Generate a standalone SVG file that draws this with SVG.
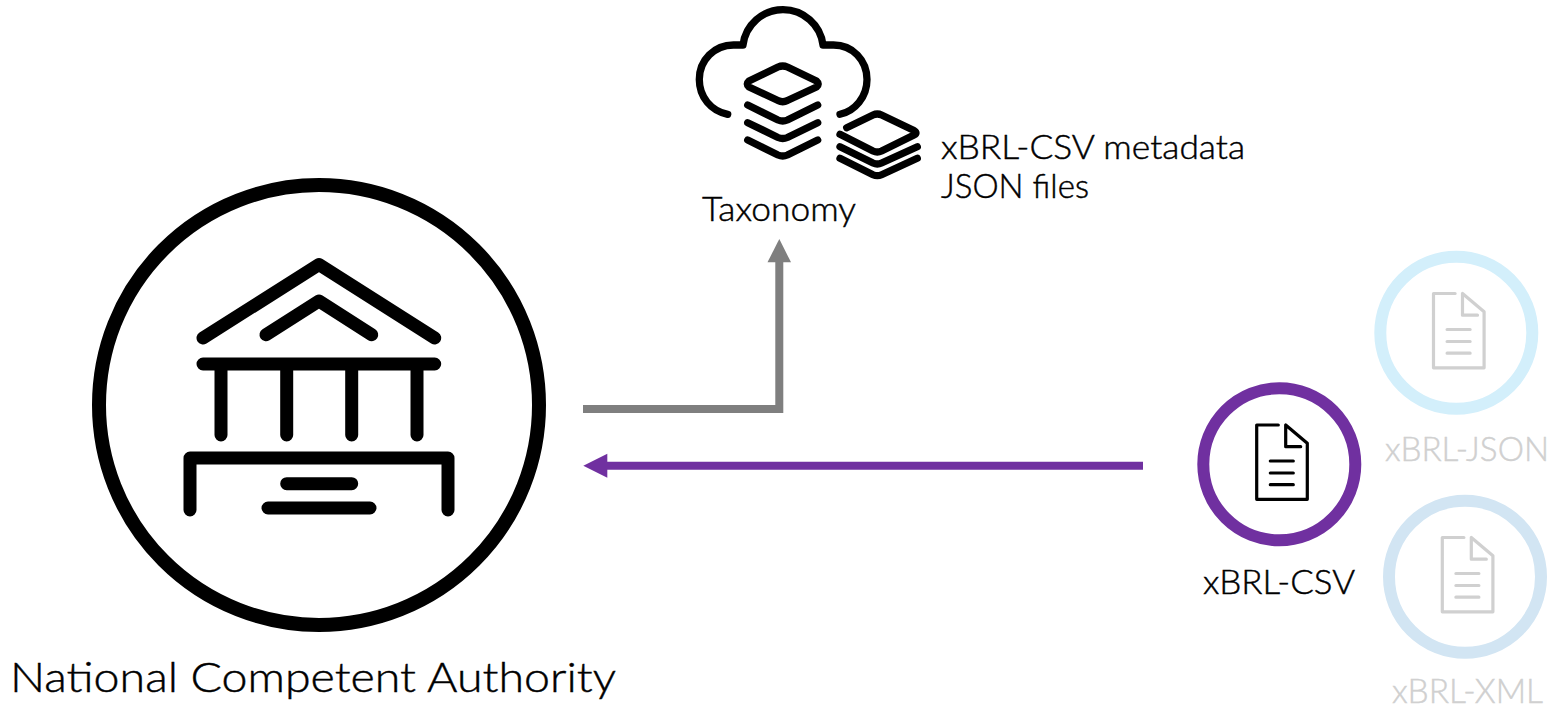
<svg xmlns="http://www.w3.org/2000/svg" width="1554" height="705" viewBox="0 0 1554 705">
<style>
text{font-family:"Lato","Liberation Sans",sans-serif;fill:#000;stroke:#000;stroke-width:.45px;font-weight:300}
.l{font-size:42px}
.m{font-size:33px}
text.dim{fill:#d0d0d0;stroke:#d0d0d0}
.i{fill:none;stroke:#000;stroke-linecap:round;stroke-linejoin:round}
.b{stroke-width:13}
.c{stroke-width:7.3}
.d{stroke-width:3.2}
.dd{stroke:#d0d0d0}
.ring{fill:#fff;stroke-width:12}
</style>
<defs>
<g id="doc">
<path d="M21.6 0H0V74.3H50.6V18.3L29 0V21.7H44"/>
<path d="M13.6 36H36.6M13.6 48H36.6M13.6 59.7H36.6"/>
</g>
</defs>
<rect width="1554" height="705" fill="#fff"/>
<g id="connectors" fill="none" stroke-width="8">
<path d="M583 409H779.3V258" stroke="#7f7f7f"/>
<path d="M779.3 239L791 262.3H767.5Z" fill="#7f7f7f"/>
<path d="M1143 465.7H603" stroke="#7030a0"/>
<path d="M583.3 465.7L607.3 453.7V477.7Z" fill="#7030a0"/>
</g>
<g id="nca">
<circle cx="319" cy="405" r="220" fill="#fff" stroke="#000" stroke-width="14"/>
<g class="i b">
<path d="M203 338L319 264.5L434.7 338"/>
<path d="M266 334.7L319 301L371.7 334.7"/>
<path d="M203 364H434.7M221 364V435M286.7 364V435M351.7 364V435M417 364V435"/>
<path d="M190 510V458H448V510"/>
<path d="M286.7 483.7H351.7M268 508H370"/>
</g>
<text class="l" x="10" y="692" textLength="606" lengthAdjust="spacingAndGlyphs">National Competent Authority</text>
</g>
<g id="taxonomy">
<g class="i c">
<path d="M727.7 114.3C711 111 699.3 97 699.3 79.5C699.3 60 714.5 45 733.5 45H743A40.3 40.3 0 0 1 823 45H833.5C852.5 45 867 60 867 79.5C867 97 855 111 840 114.3"/>
<path d="M749 81L778 67Q782.7 65 787.4 67L816.5 81Q820 84 816.5 87L787.4 100.5Q782.7 103 778 100.5L749 87Q745.5 84 749 81Z"/>
<path d="M747.7 105L778 120Q782.7 122 787.4 120L817.7 105"/>
<path d="M747.7 122.7L778 137.5Q782.7 139.5 787.4 137.5L817.7 122.7"/>
<path d="M747.7 140L778 155Q782.7 157 787.4 155L817.7 140"/>
<path d="M846.7 127.7L873 115Q877.3 113 881.6 115L914 130.5Q918 133 914 135L881.6 151Q877.3 153 873 151L840 134.3"/>
<path d="M840 146.7L873 163Q877.3 165 881.6 163L917.3 146.7"/>
<path d="M840 158.3L873 174.7Q877.3 176.7 881.6 174.7L917.3 158.3"/>
</g>
<text class="m" x="702" y="221" textLength="154" lengthAdjust="spacingAndGlyphs">Taxonomy</text>
<text class="m" x="941" y="159" textLength="304" lengthAdjust="spacingAndGlyphs">xBRL-CSV metadata</text>
<text class="m" x="941" y="198" textLength="148" lengthAdjust="spacingAndGlyphs">JSON files</text>
</g>
<g id="xbrl-csv">
<circle class="ring" cx="1279.3" cy="464.3" r="76" stroke="#7030a0"/>
<use href="#doc" x="1256.7" y="425" class="i d"/>
<text class="m" x="1203" y="594" textLength="152" lengthAdjust="spacingAndGlyphs">xBRL-CSV</text>
</g>
<g id="xbrl-json">
<circle class="ring" cx="1456.3" cy="332.7" r="76" stroke="#d3effb"/>
<use href="#doc" x="1433.5" y="293.5" class="i d dd"/>
<text class="m dim" x="1385" y="461" textLength="164" lengthAdjust="spacingAndGlyphs">xBRL-JSON</text>
</g>
<g id="xbrl-xml">
<circle class="ring" cx="1465" cy="576.7" r="76" stroke="#d2e5f3"/>
<use href="#doc" x="1442.3" y="537.5" class="i d dd"/>
<text class="m dim" x="1392" y="703" textLength="151" lengthAdjust="spacingAndGlyphs">xBRL-XML</text>
</g>
</svg>
